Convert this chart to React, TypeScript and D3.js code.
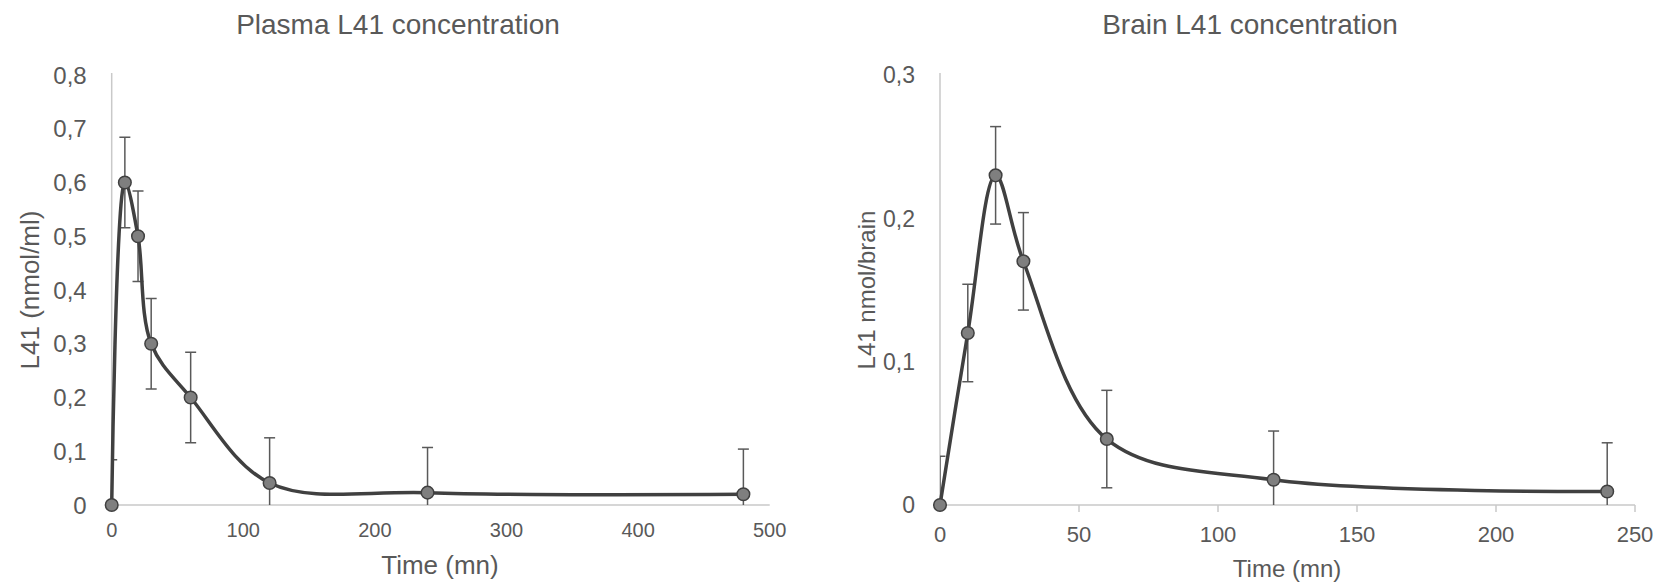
import React from 'react';
import * as d3 from 'd3';

// plasma series (time in mn, nmol/ml)
const plasmaTime = [0, 10, 20, 30, 60, 120, 240, 480];
const plasmaConc = [0, 0.6, 0.5, 0.3, 0.2, 0.041, 0.023, 0.02];
const plasmaErr = [0.084, 0.084, 0.084, 0.084, 0.084, 0.084, 0.084, 0.084];
const plasmaXTicks = [0, 100, 200, 300, 400, 500];
const plasmaYTicks = [0, 0.1, 0.2, 0.3, 0.4, 0.5, 0.6, 0.7, 0.8];

// brain series (time in mn, nmol/brain)
const brainTime = [0, 10, 20, 30, 60, 120, 240];
const brainConc = [0, 0.12, 0.23, 0.17, 0.046, 0.0176, 0.0094];
const brainErr = [0.034, 0.034, 0.034, 0.034, 0.034, 0.034, 0.034];
const brainXTicks = [0, 50, 100, 150, 200, 250];
const brainYTicks = [0, 0.1, 0.2, 0.3];

const FONT = '"Liberation Sans", Arial, sans-serif';
const TEXT = '#595959';
const AXIS = '#c9c9c9';

const fmt = (v: number) => (v === 0 ? '0' : d3.format('.1f')(v).replace('.', ','));

type PanelProps = {
  id: string;
  title: string;
  titleX: number;
  xLabel: string;
  xLabelX: number;
  xLabelY: number;
  yLabel: string;
  yLabelX: number;
  times: number[];
  values: number[];
  errs: number[];
  xTicks: number[];
  yTicks: number[];
  x0: number;
  x1: number;
  yLabelSize: number;
  xTickSize: number;
  yTickSize: number;
  axisTitleSize: number;
  xTickY: number;
  showXTicks: boolean;
};

const Panel = (p: PanelProps) => {
  const top = 75;
  const bottom = 505;
  const x = d3.scaleLinear().domain([0, p.xTicks[p.xTicks.length - 1]]).range([p.x0, p.x1]);
  const y = d3.scaleLinear().domain([0, p.yTicks[p.yTicks.length - 1]]).range([bottom, top]);
  const pts: [number, number][] = p.times.map((t, i) => [x(t), y(p.values[i])]);
  const line = d3.line().curve(d3.curveCatmullRom.alpha(0.5));
  const cap = 5.5;
  return (
    <g>
      <defs>
        <clipPath id={p.id}>
          <rect x={p.x0} y={0} width={p.x1 - p.x0 + 10} height={bottom} />
        </clipPath>
      </defs>
      <text x={p.titleX} y={34} textAnchor="middle" fontSize={28} fill={TEXT}>{p.title}</text>
      {/* axes */}
      <line x1={p.x0} x2={p.x0} y1={top - 2} y2={bottom} stroke={AXIS} strokeWidth={1.5} />
      <line x1={p.x0} x2={p.x1} y1={bottom} y2={bottom} stroke={AXIS} strokeWidth={1.5} />
      {p.showXTicks && p.xTicks.map(t => (
        <line key={t} x1={x(t)} x2={x(t)} y1={bottom} y2={bottom + 7} stroke={AXIS} strokeWidth={1.5} />
      ))}
      {p.yTicks.map(t => (
        <text key={t} x={p.x0 - 25} y={y(t)} dy="0.36em" textAnchor="end" fontSize={p.yTickSize} fill={TEXT}>{fmt(t)}</text>
      ))}
      {p.xTicks.map(t => (
        <text key={t} x={x(t)} y={p.xTickY} textAnchor="middle" fontSize={p.xTickSize} fill={TEXT}>{t}</text>
      ))}
      <text x={p.xLabelX} y={p.xLabelY} textAnchor="middle" fontSize={p.axisTitleSize} fill={TEXT}>{p.xLabel}</text>
      <text transform={`translate(${p.yLabelX},290) rotate(-90)`} dy="0.36em" textAnchor="middle" fontSize={p.yLabelSize} fill={TEXT}>{p.yLabel}</text>
      {/* error bars */}
      <g clipPath={`url(#${p.id})`} stroke={TEXT} strokeWidth={1.5}>
        {p.times.map((t, i) => {
          const cx = x(t);
          const hi = y(p.values[i] + p.errs[i]);
          const lo = y(p.values[i] - p.errs[i]);
          return (
            <g key={t}>
              <line x1={cx} x2={cx} y1={hi} y2={lo} />
              <line x1={cx - cap} x2={cx + cap} y1={hi} y2={hi} />
              <line x1={cx - cap} x2={cx + cap} y1={lo} y2={lo} />
            </g>
          );
        })}
      </g>
      <path d={line(pts) || ''} fill="none" stroke="#404040" strokeWidth={3.5} />
      {pts.map(([cx, cy], i) => (
        <circle key={i} cx={cx} cy={cy} r={6.3} fill="#7f7f7f" stroke="#404040" strokeWidth={1.5} />
      ))}
    </g>
  );
};

const App = () => (
  <svg width={1672} height={586} style={{ position: 'absolute', left: 0, top: 0, display: 'block', background: '#fff' }} fontFamily={FONT}>
    <rect width={1672} height={586} fill="#fff" />
    <Panel
      id="clipPlasma"
      title="Plasma L41 concentration"
      titleX={398}
      xLabel="Time (mn)"
      xLabelX={440}
      xLabelY={574}
      yLabel="L41 (nmol/ml)"
      yLabelX={30}
      times={plasmaTime}
      values={plasmaConc}
      errs={plasmaErr}
      xTicks={plasmaXTicks}
      yTicks={plasmaYTicks}
      x0={111.7}
      x1={769.7}
      yLabelSize={26}
      xTickSize={20}
      yTickSize={24}
      axisTitleSize={26}
      xTickY={537}
      showXTicks={false}
    />
    <Panel
      id="clipBrain"
      title="Brain L41 concentration"
      titleX={1250}
      xLabel="Time (mn)"
      xLabelX={1287}
      xLabelY={577}
      yLabel="L41 nmol/brain"
      yLabelX={866}
      times={brainTime}
      values={brainConc}
      errs={brainErr}
      xTicks={brainXTicks}
      yTicks={brainYTicks}
      x0={940}
      x1={1635}
      yLabelSize={24}
      xTickSize={22}
      yTickSize={23}
      axisTitleSize={24}
      xTickY={542}
      showXTicks={true}
    />
  </svg>
);

export default App;
